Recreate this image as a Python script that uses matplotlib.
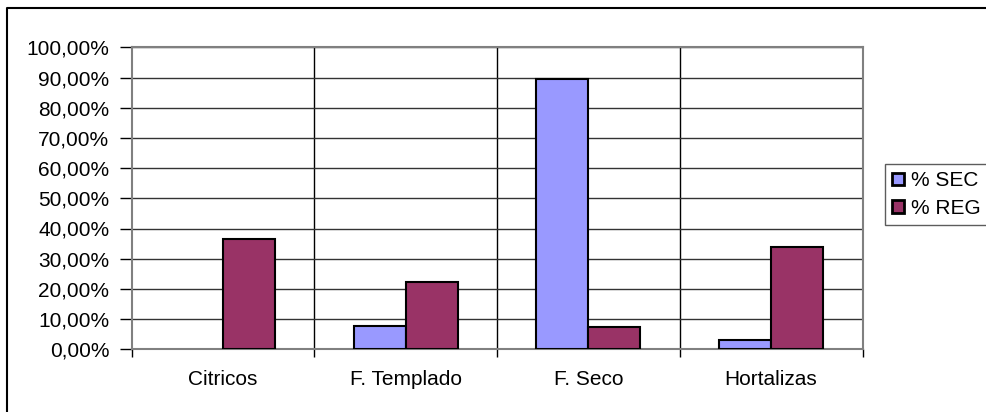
import matplotlib
matplotlib.use("Agg")
import matplotlib.pyplot as plt
from matplotlib.lines import Line2D
from matplotlib.patches import Patch
from matplotlib.ticker import FuncFormatter, FixedLocator
import numpy as np

plt.rcParams['font.family'] = ['Liberation Sans', 'DejaVu Sans']
plt.rcParams['font.size'] = 15

categories = ["Citricos", "F. Templado", "F. Seco", "Hortalizas"]
sec = [0.0, 7.7, 89.4, 3.1]
reg = [36.6, 22.3, 7.5, 33.8]
series_names = ["% SEC", "% REG"]
colors = ["#9999FF", "#993366"]

W, H = 987, 412
fig = plt.figure(figsize=(W / 100, H / 100), dpi=100)
ax = fig.add_axes([131.5 / W, 1 - 349.3 / H, (862.5 - 131.5) / W, (349.3 - 47.3) / H])

x = np.arange(len(categories))
bw = 0.285
b1 = ax.bar(x - bw / 2, sec, bw, color=colors[0], edgecolor="black", linewidth=1.5, zorder=3)
b2 = ax.bar(x + bw / 2, reg, bw, color=colors[1], edgecolor="black", linewidth=1.5, zorder=3)
# excel draws nothing for a zero value
for cont in (b1, b2):
    for p in cont.patches:
        if p.get_height() == 0:
            p.set_visible(False)

ax.set_xlim(-0.5, len(categories) - 0.5)
ax.set_ylim(0, 100)
ax.set_yticks(np.arange(0, 101, 10))
ax.yaxis.set_major_formatter(FuncFormatter(lambda v, p: f"{v:.2f}".replace(".", ",") + "%"))
ax.tick_params(axis="y", direction="out", length=9, width=1, pad=7, colors="black")

ax.set_xticks(x)
ax.set_xticklabels(categories)
ax.tick_params(axis="x", which="major", length=0, pad=15)
ax.xaxis.set_minor_locator(FixedLocator(np.arange(-0.5, len(categories), 1)))
ax.tick_params(axis="x", which="minor", direction="out", length=6, width=1, color="black")

ax.grid(axis="y", color="#333333", linewidth=1, zorder=0)
for b in np.arange(0.5, len(categories) - 1, 1):
    ax.axvline(b, color="black", linewidth=1, zorder=0)

for s in ax.spines.values():
    s.set_color("#808080")
    s.set_linewidth(1.5)

# outer chart frame (only top and left edges visible in the crop)
fx = 7 / W
fy = 1 - 8 / H
fig.add_artist(Line2D([fx, fx, 1.0], [0.0, fy, fy], color="black", linewidth=1.5,
                      transform=fig.transFigure))

handles = [Patch(facecolor=c, edgecolor="black", linewidth=2) for c in colors]
leg = ax.legend(handles, series_names, loc="upper left", bbox_to_anchor=(885 / W, 1 - 164 / H),
                bbox_transform=fig.transFigure, frameon=True, fancybox=False,
                handlelength=0.55, handleheight=0.55, handletextpad=0.35,
                labelspacing=0.42, borderpad=0.35, borderaxespad=0)
leg.get_frame().set_edgecolor("#333333")
leg.get_frame().set_linewidth(1)

fig.savefig("out.png", dpi=100)
